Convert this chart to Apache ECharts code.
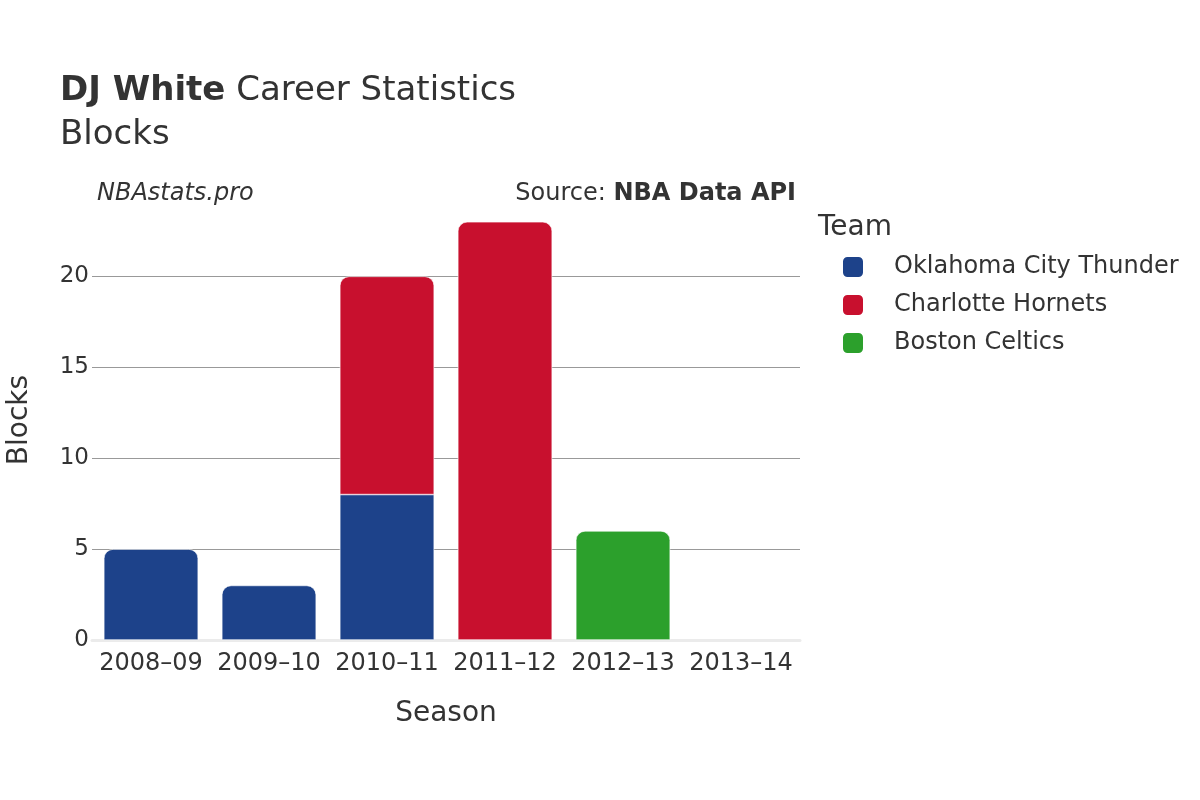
<!DOCTYPE html>
<html>
<head>
<meta charset="utf-8">
<script src="https://cdn.jsdelivr.net/npm/echarts@6/dist/echarts.min.js"></script>
<style>
  html, body { margin: 0; padding: 0; background: #fff; }
  #myChart { width: 1200px; height: 800px; }
</style>
</head>
<body>
<div id="myChart"></div>
<script>
// data
var seasons = ['2008–09', '2009–10', '2010–11', '2011–12', '2012–13', '2013–14'];
var teams = ['Oklahoma City Thunder', 'Charlotte Hornets', 'Boston Celtics'];
var okcBlocks = [5, 3, 8, 0, 0, 0];
var chaBlocks = [0, 0, 12, 23, 0, 0];
var bosBlocks = [0, 0, 0, 0, 6, 0];
var yTicks = [0, 5, 10, 15, 20];

var teamColors = ['#1D428A', '#C8102E', '#2CA02C'];
var font = 'DejaVu Sans';
var stack = [okcBlocks, chaBlocks, bosBlocks];

// round only the top segment of each stacked bar
function buildData(idx) {
  return stack[idx].map(function (v, i) {
    var onTop = true;
    for (var k = idx + 1; k < stack.length; k++) {
      if (stack[k][i] > 0) onTop = false;
    }
    return {
      value: v === 0 ? '-' : v,
      itemStyle: { borderRadius: onTop ? [9, 9, 0, 0] : 0 }
    };
  });
}

var series = teams.map(function (name, idx) {
  return {
    name: name,
    type: 'bar',
    stack: 'total',
    barWidth: '80%',
    itemStyle: { color: teamColors[idx], borderColor: '#fff', borderWidth: 0.6 },
    data: buildData(idx)
  };
});

var myChart = echarts.init(document.getElementById('myChart'));
myChart.setOption({
  animation: false,
  textStyle: { fontFamily: font },
  grid: { left: 92, right: 400, top: 200, bottom: 160, outerBoundsMode: 'none', containLabel: false },
  legend: {
    orient: 'vertical',
    left: 836,
    top: 250,
    icon: 'roundRect',
    itemWidth: 22,
    itemHeight: 22,
    itemGap: 14,
    data: teams,
    textStyle: { fontSize: 24, color: '#333', fontFamily: font, padding: [0, 0, 0, 25] }
  },
  xAxis: {
    type: 'category',
    data: seasons,
    axisTick: { show: false },
    axisLine: { show: true, lineStyle: { color: '#ebebeb', width: 3 } },
    axisLabel: { fontSize: 24, color: '#333', margin: 12, interval: 0 },
    name: 'Season',
    nameLocation: 'middle',
    nameGap: 60,
    nameTextStyle: { fontSize: 28, color: '#333' }
  },
  yAxis: {
    type: 'value',
    min: 0,
    max: 24.2,
    interval: 5,
    axisLabel: {
      fontSize: 23, color: '#333', margin: 3,
      formatter: function (v) { return yTicks.indexOf(v) >= 0 ? String(v) : ''; }
    },
    splitLine: { showMaxLine: false, lineStyle: { color: '#999', width: 1 } },
    axisLine: { show: false },
    axisTick: { show: false },
    name: 'Blocks',
    nameLocation: 'middle',
    nameGap: 58,
    nameTextStyle: { fontSize: 28, color: '#333' }
  },
  series: series,
  graphic: [
    {
      type: 'text', left: 60, top: 74,
      style: {
        text: '{b|DJ White} Career Statistics',
        rich: { b: { fontWeight: 'bold', fontSize: 34, fill: '#333', fontFamily: font } },
        fontSize: 34, fill: '#333', fontFamily: font
      }
    },
    {
      type: 'text', left: 60, top: 118,
      style: { text: 'Blocks', fontSize: 34, fill: '#333', fontFamily: font }
    },
    {
      type: 'text', left: 97, top: 182,
      style: { text: 'NBAstats.pro', fontSize: 24, fontStyle: 'italic', fill: '#333', fontFamily: font }
    },
    {
      type: 'text', right: 404, top: 182,
      style: {
        text: 'Source: {b|NBA Data API}',
        rich: { b: { fontWeight: 'bold', fontSize: 24, fill: '#333', fontFamily: font } },
        fontSize: 24, fill: '#333', fontFamily: font
      }
    },
    {
      type: 'text', left: 818, top: 214,
      style: { text: 'Team', fontSize: 28, fill: '#333', fontFamily: font }
    }
  ]
});
</script>
</body>
</html>
